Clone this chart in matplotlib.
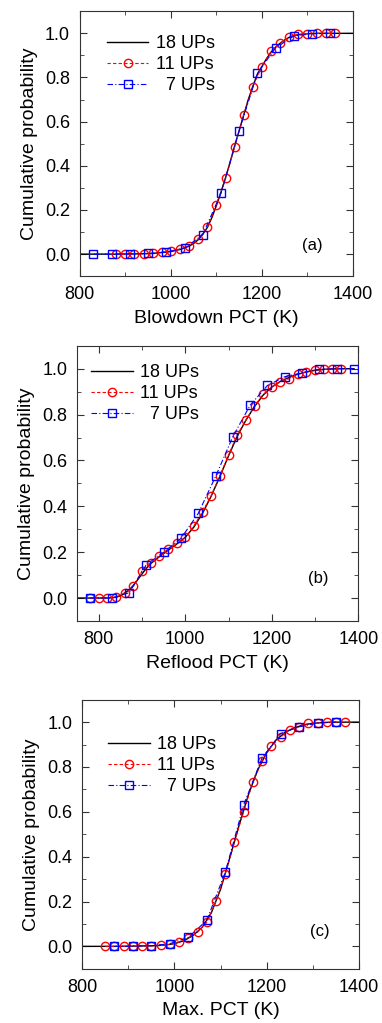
import numpy as np
import matplotlib
matplotlib.use('Agg')
import matplotlib.pyplot as plt
from matplotlib.ticker import MultipleLocator

plt.rcParams['font.family'] = ['Liberation Sans', 'DejaVu Sans']

labels = ['18 UPs', '11 UPs', '  7 UPs']

# (a) Blowdown PCT
a18_x = [800, 840, 880, 920, 960, 1000, 1020, 1040, 1050, 1060, 1070, 1080, 1090, 1100,
         1110, 1120, 1130, 1140, 1150, 1160, 1170, 1180, 1190, 1200, 1210, 1220, 1230,
         1240, 1250, 1260, 1270, 1280, 1300, 1320, 1400]
a18_y = [0, 0, 0, 0.001, 0.003, 0.012, 0.021, 0.036, 0.048, 0.065, 0.09, 0.12, 0.165, 0.22,
         0.28, 0.345, 0.415, 0.49, 0.56, 0.63, 0.70, 0.76, 0.815, 0.85, 0.885, 0.915, 0.937,
         0.955, 0.97, 0.982, 0.99, 0.994, 0.998, 1.0, 1.0]
a11_x = [880, 900, 920, 940, 960, 980, 1000, 1020, 1040, 1060, 1080, 1100, 1120, 1140, 1160,
         1180, 1200, 1220, 1240, 1260, 1280, 1300, 1320, 1340, 1360]
a11_y = [0, 0, 0.001, 0.002, 0.003, 0.008, 0.015, 0.023, 0.038, 0.068, 0.121, 0.224, 0.343,
         0.486, 0.630, 0.758, 0.849, 0.918, 0.955, 0.985, 0.995, 0.999, 1.0, 1.0, 1.0]
a7_x = [830, 870, 910, 950, 990, 1030, 1070, 1110, 1150, 1190, 1230, 1270, 1310, 1350]
a7_y = [0, 0, 0.001, 0.003, 0.009, 0.027, 0.088, 0.275, 0.559, 0.819, 0.934, 0.988, 0.998, 1.0]

# (b) Reflood PCT
b18_x = [750, 780, 820, 840, 850, 860, 870, 880, 890, 900, 910, 920, 940, 960, 980, 1000,
         1020, 1040, 1060, 1080, 1100, 1120, 1140, 1160, 1180, 1200, 1220, 1240, 1260,
         1280, 1300, 1320, 1340, 1360, 1390]
b18_y = [0, 0, 0, 0.003, 0.01, 0.022, 0.035, 0.055, 0.08, 0.105, 0.13, 0.15, 0.18, 0.208,
         0.235, 0.265, 0.31, 0.37, 0.445, 0.53, 0.62, 0.705, 0.775, 0.835, 0.885, 0.92,
         0.945, 0.962, 0.976, 0.986, 0.993, 0.997, 0.999, 1.0, 1.0]
b11_x = [780, 800, 820, 840, 860, 880, 900, 920, 940, 960, 980, 1000, 1020, 1040, 1060,
         1080, 1100, 1120, 1140, 1160, 1180, 1200, 1220, 1240, 1260, 1280, 1300, 1320,
         1340, 1360]
b11_y = [0, 0, 0, 0.004, 0.023, 0.051, 0.118, 0.153, 0.182, 0.212, 0.238, 0.264, 0.315,
         0.377, 0.447, 0.533, 0.623, 0.712, 0.775, 0.837, 0.888, 0.920, 0.943, 0.956,
         0.975, 0.987, 0.994, 0.997, 0.999, 1.0]
b7_x = [780, 830, 870, 910, 950, 990, 1030, 1070, 1110, 1150, 1190, 1230, 1270, 1310,
        1350, 1390]
b7_y = [0, 0, 0.023, 0.146, 0.200, 0.260, 0.369, 0.530, 0.704, 0.841, 0.927, 0.965,
        0.982, 0.997, 1.0, 1.0]

# (c) Max. PCT
c18_x = [800, 880, 960, 980, 1000, 1020, 1040, 1060, 1080, 1100, 1120, 1140, 1160, 1180,
         1200, 1220, 1240, 1260, 1280, 1300, 1320, 1340, 1400]
c18_y = [0, 0, 0.003, 0.006, 0.012, 0.025, 0.048, 0.085, 0.15, 0.255, 0.395, 0.54, 0.675,
         0.785, 0.865, 0.92, 0.955, 0.975, 0.988, 0.995, 0.998, 1.0, 1.0]
c11_x = [850, 870, 890, 910, 930, 950, 970, 990, 1010, 1030, 1050, 1070, 1090, 1110, 1130,
         1150, 1170, 1190, 1210, 1230, 1250, 1270, 1290, 1310, 1330, 1350, 1370]
c11_y = [0, 0, 0, 0.001, 0.001, 0.002, 0.004, 0.009, 0.019, 0.038, 0.063, 0.107, 0.201,
         0.323, 0.466, 0.601, 0.734, 0.826, 0.893, 0.933, 0.967, 0.978, 0.994, 0.997,
         0.999, 1.0, 1.0]
c7_x = [870, 910, 950, 990, 1030, 1070, 1110, 1150, 1190, 1230, 1270, 1310, 1350]
c7_y = [0, 0.001, 0.003, 0.012, 0.040, 0.116, 0.330, 0.631, 0.841, 0.949, 0.979, 0.996, 1.0]

panels = [
    dict(pos=[0.209, 0.730, 0.715, 0.259], xlim=(800, 1400), xlabel='Blowdown PCT (K)',
         tag='(a)', tagxy=(0.85, 0.117), leg=(0.099, 0.91),
         d18=(a18_x, a18_y), d11=(a11_x, a11_y), d7=(a7_x, a7_y)),
    dict(pos=[0.202, 0.393, 0.736, 0.269], xlim=(750, 1400), xlabel='Reflood PCT (K)',
         tag='(b)', tagxy=(0.858, 0.156), leg=(0.05, 0.934),
         d18=(b18_x, b18_y), d11=(b11_x, b11_y), d7=(b7_x, b7_y)),
    dict(pos=[0.215, 0.053, 0.725, 0.263], xlim=(800, 1400), xlabel='Max. PCT (K)',
         tag='(c)', tagxy=(0.86, 0.138), leg=(0.094, 0.865),
         d18=(c18_x, c18_y), d11=(c11_x, c11_y), d7=(c7_x, c7_y)),
]

fig = plt.figure(figsize=(3.82, 10.23), dpi=100)

for p in panels:
    ax = fig.add_axes(p['pos'])
    ax.plot(*p['d18'], color='black', lw=1.0, label=labels[0], zorder=2)
    ax.plot(*p['d11'], color='red', lw=0.8, ls=(0, (3, 2)), marker='o', ms=6,
            mfc='none', mec='red', mew=1.0, label=labels[1], zorder=3)
    ax.plot(*p['d7'], color='blue', lw=0.8, ls=(0, (5, 2, 1, 2)), marker='s', ms=5.5,
            mfc='none', mec='blue', mew=1.0, label=labels[2], zorder=4)
    ax.set_xlim(*p['xlim'])
    ax.set_ylim(-0.1, 1.1)
    ax.xaxis.set_major_locator(MultipleLocator(200))
    ax.xaxis.set_minor_locator(MultipleLocator(100))
    ax.yaxis.set_major_locator(MultipleLocator(0.2))
    ax.yaxis.set_minor_locator(MultipleLocator(0.1))
    ax.yaxis.set_major_formatter(matplotlib.ticker.FormatStrFormatter('%.1f'))
    ax.tick_params(which='both', direction='in', top=True, right=True, labelsize=13,
                   color='#333333')
    ax.tick_params(which='major', length=5, pad=7)
    ax.tick_params(which='minor', length=3)
    for s in ax.spines.values():
        s.set_color('#333333')
    ax.set_xlabel(p['xlabel'], fontsize=14, labelpad=5)
    ax.set_ylabel('Cumulative probability', fontsize=14, labelpad=5)
    ax.text(p['tagxy'][0], p['tagxy'][1], p['tag'], transform=ax.transAxes,
            fontsize=12, ha='center', va='center')
    ax.legend(loc='upper left', bbox_to_anchor=p['leg'], frameon=False, fontsize=13,
              handlelength=2.3, handletextpad=0.4, labelspacing=0.22, borderpad=0,
              borderaxespad=0)

fig.savefig('out.png', dpi=100)
